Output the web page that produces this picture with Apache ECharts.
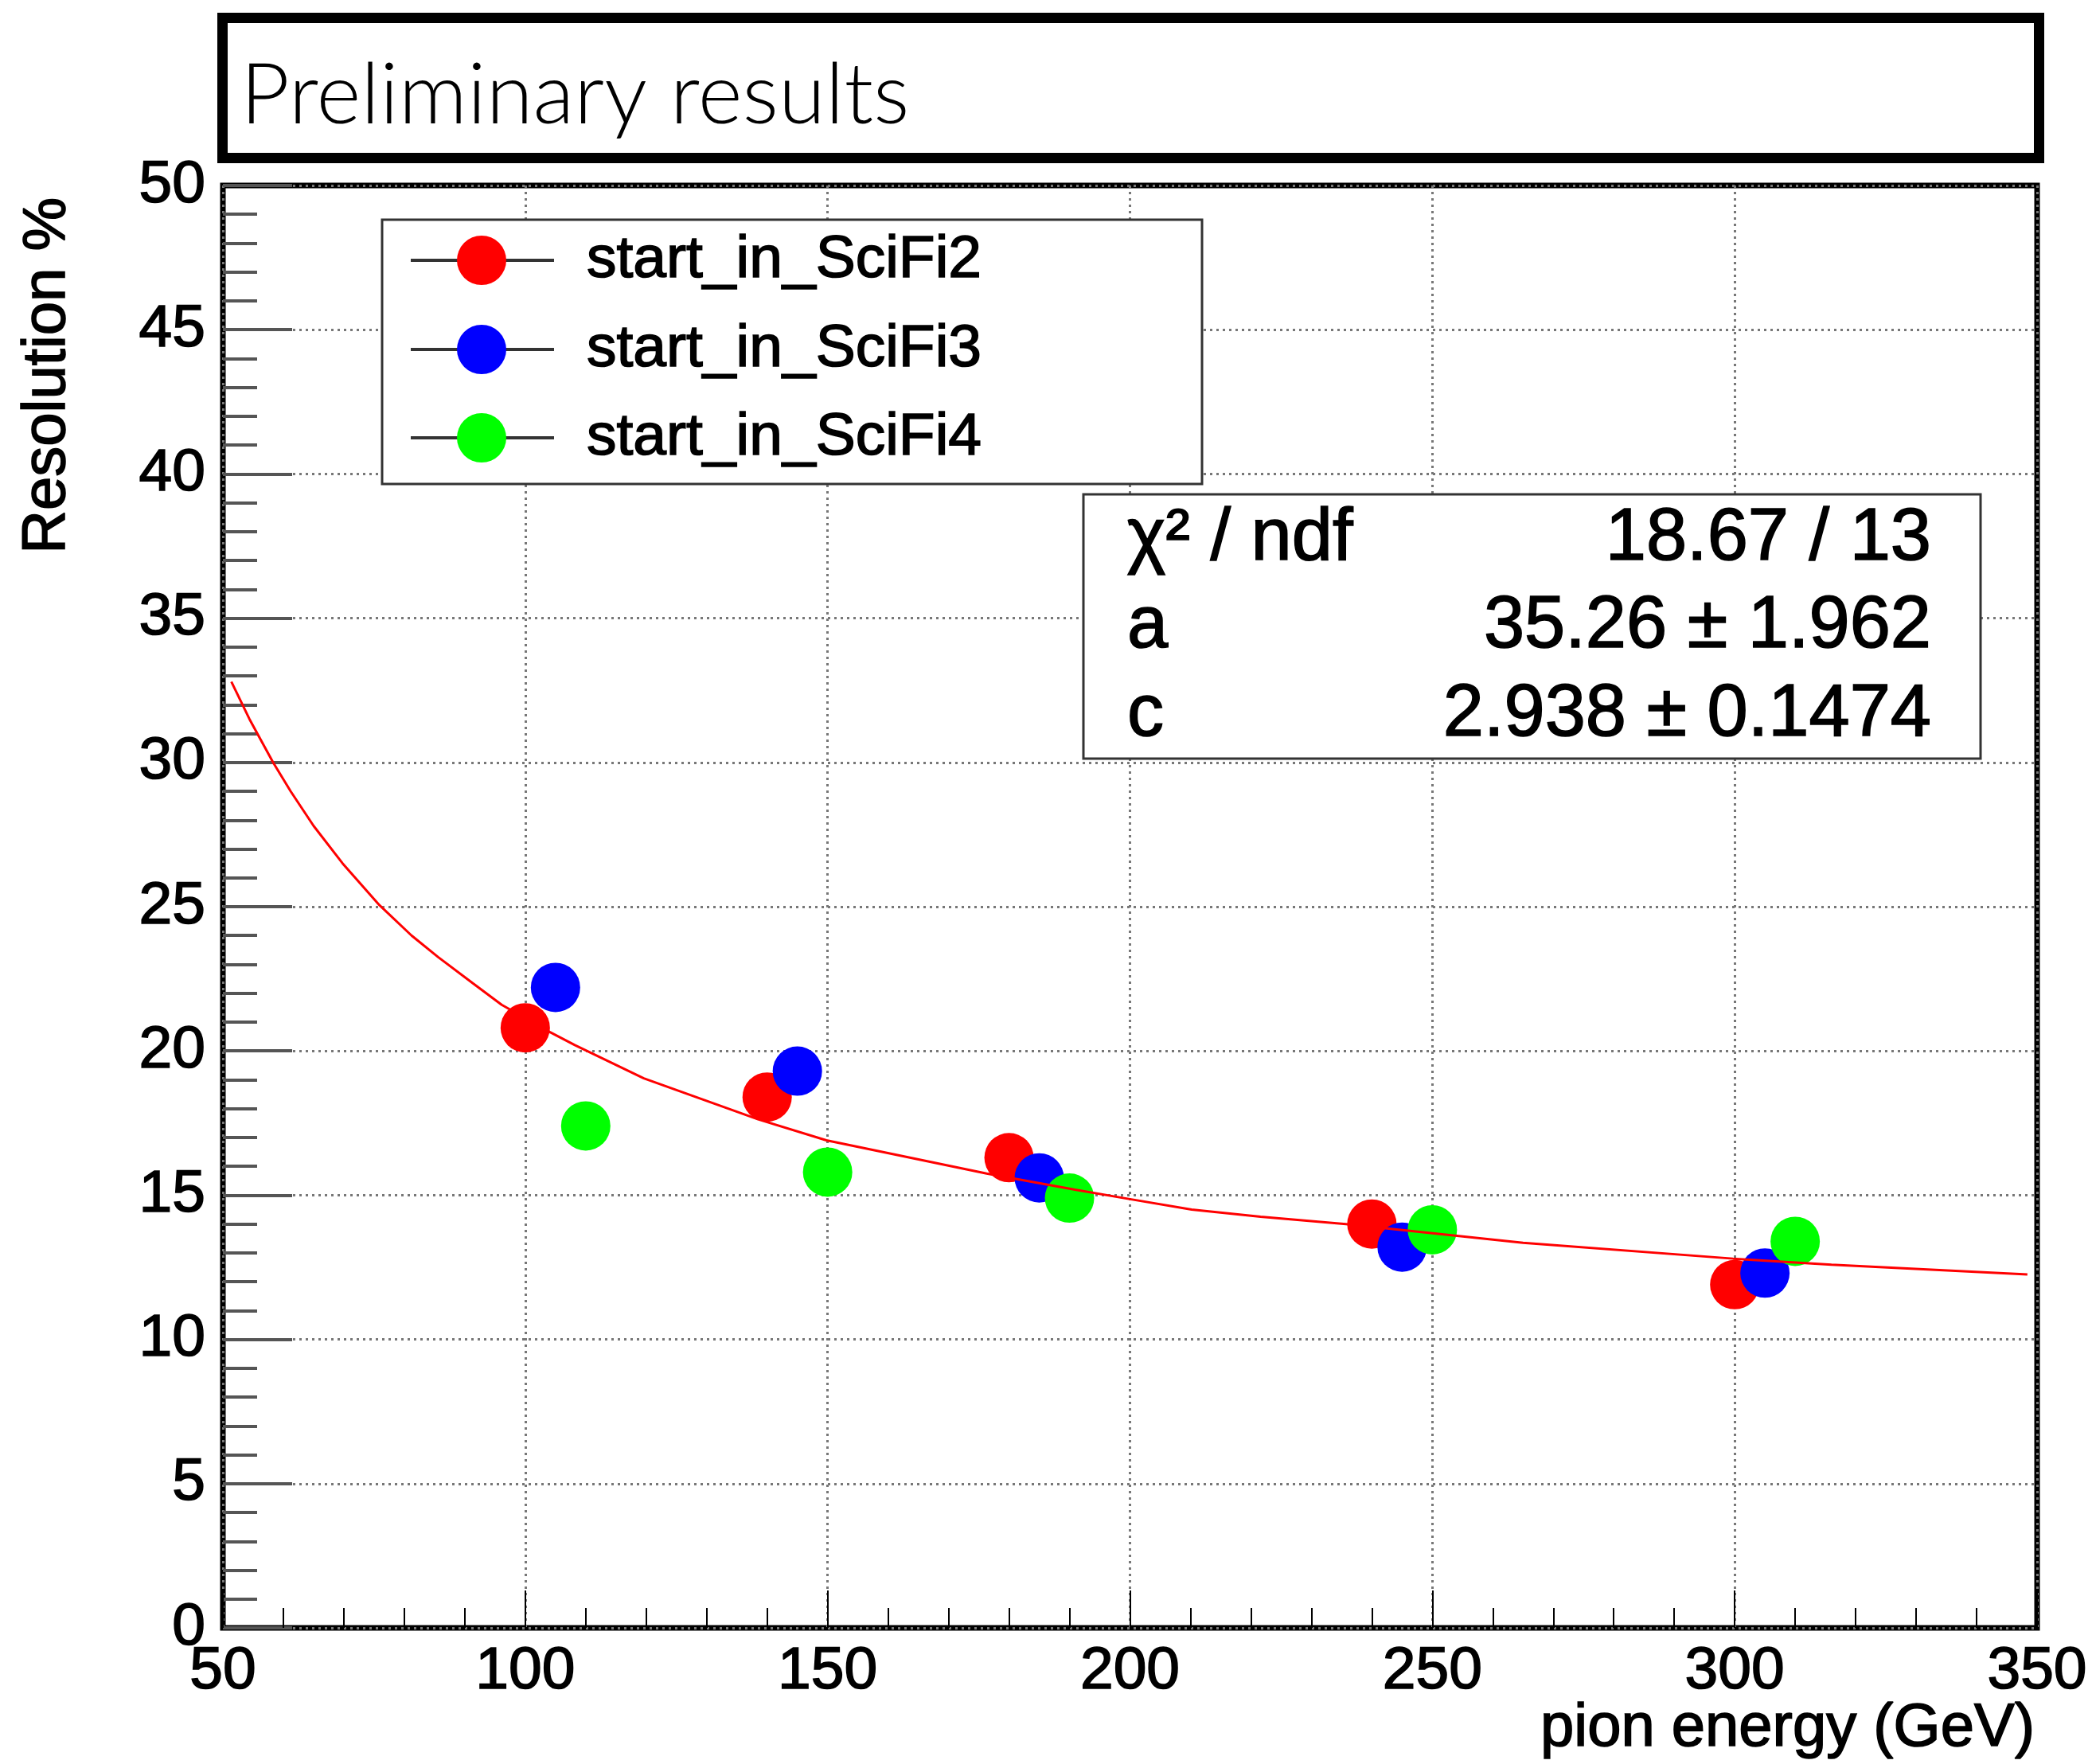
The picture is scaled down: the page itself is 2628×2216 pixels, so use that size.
<!DOCTYPE html>
<html>
<head>
<meta charset="utf-8">
<script src="https://cdn.jsdelivr.net/npm/echarts@6/dist/echarts.min.js"></script>
<style>
html,body{margin:0;padding:0;background:#fff;}
#chart{width:2628px;height:2216px;}
</style>
</head>
<body>
<div id="chart"></div>
<script>
// data
var seriesNames = ['start_in_SciFi2', 'start_in_SciFi3', 'start_in_SciFi4'];
var seriesColors = ['#ff0000', '#0000ff', '#00ff00'];

var energy2 = [100, 140, 180, 240, 300];
var res2 = [20.8, 18.4, 16.3, 14.0, 11.9];
var energy3 = [105, 145, 185, 245, 305];
var res3 = [22.2, 19.3, 15.6, 13.2, 12.3];
var energy4 = [110, 150, 190, 250, 310];
var res4 = [17.4, 15.8, 14.9, 13.8, 13.4];

// fit curve, traced point by point
var fitE = [51.4, 54.4, 58.3, 61.2, 65, 69.8, 75.9, 81.2, 85.6, 91.3, 96.1, 104.1, 108.2, 119.6, 138.5, 149.8, 176.3, 190.9, 199.8, 210.2, 221.6, 235.7, 265, 299.7, 316, 348.4];
var fitRes = [32.8, 31.5, 30.0, 29.0, 27.8, 26.5, 25.05, 24.0, 23.25, 22.35, 21.6, 20.65, 20.2, 19.05, 17.63, 16.9, 15.75, 15.19, 14.87, 14.5, 14.25, 14.0, 13.35, 12.8, 12.59, 12.25];

var statNames = ['χ² / ndf', 'a', 'c'];
var statValues = ['18.67 / 13', '35.26 ± 1.962', '2.938 ± 0.1474'];

function pairs(xs, ys){
	var out = [];
	for (var i = 0; i < xs.length; i++) out.push([xs[i], ys[i]]);
	return out;
}

var font = 'Liberation Sans';
var chart = echarts.init(document.getElementById('chart'), null, {renderer: 'canvas'});

var scatterSeries = [pairs(energy2, res2), pairs(energy3, res3), pairs(energy4, res4)].map(function(d, i){
	return {
		name: seriesNames[i],
		type: 'scatter',
		data: d,
		symbol: 'circle',
		symbolSize: 62,
		itemStyle: {color: seriesColors[i], opacity: 1},
		z: 3
	};
});

// text a touch heavier, like the ROOT picture
function txt(x, y, s, size, align, extra){
	var t = {type: 'text', x: x, y: y, z: 12,
		style: {text: s, font: size + 'px "' + font + '"', fill: '#000', verticalAlign: 'middle', align: align,
			stroke: '#000', lineWidth: 1.6}};
	if (extra) for (var k in extra) t[k] = extra[k];
	return t;
}

// legend drawn by hand (ROOT style: line through marker)
var legendItems = [];
var legendY = [327, 439, 550];
legendItems.push({type: 'rect', shape: {x: 480, y: 276, width: 1030, height: 332},
	style: {fill: '#fff', stroke: '#333', lineWidth: 3}, z: 10});
seriesNames.forEach(function(n, i){
	legendItems.push({type: 'line', shape: {x1: 516, y1: legendY[i], x2: 696, y2: legendY[i]},
		style: {stroke: '#333', lineWidth: 4}, z: 11});
	legendItems.push({type: 'circle', shape: {cx: 605, cy: legendY[i], r: 31},
		style: {fill: seriesColors[i]}, z: 12});
	legendItems.push(txt(737, legendY[i], n, 75, 'left'));
});

var statY = [678, 788, 899];
var statItems = [{type: 'rect', shape: {x: 1361, y: 621, width: 1127, height: 332},
	style: {fill: '#fff', stroke: '#333', lineWidth: 3}, z: 10}];
statNames.forEach(function(n, i){
	statItems.push(txt(1416, statY[i], n, 92, 'left'));
	statItems.push(txt(2426, statY[i], statValues[i], 92, 'right'));
});

var labelStyle = {fontFamily: font, fontSize: 75, color: '#000', textBorderColor: '#000', textBorderWidth: 1.6,
	showMinLabel: true, showMaxLabel: true};

var option = {
	animation: false,
	backgroundColor: '#fff',
	grid: {
		left: 280, right: 69, top: 233, bottom: 171,
		show: true, borderColor: '#000', borderWidth: 7, backgroundColor: 'transparent'
	},
	xAxis: {
		type: 'value',
		min: 50, max: 350, interval: 50,
		axisLine: {show: false},
		axisTick: {show: true, inside: true, length: 47, lineStyle: {color: '#000', width: 2}},
		minorTick: {show: true, splitNumber: 5, length: 25, lineStyle: {color: '#000', width: 2}},
		splitLine: {show: true, lineStyle: {color: '#777', width: 3, type: [3, 5]}},
		axisLabel: Object.assign({margin: 18}, labelStyle)
	},
	yAxis: {
		type: 'value',
		min: 0, max: 50, interval: 5,
		axisLine: {show: false},
		axisTick: {show: true, inside: true, length: 87, lineStyle: {color: '#555', width: 4}},
		minorTick: {show: true, splitNumber: 5, length: 43, lineStyle: {color: '#555', width: 4}},
		splitLine: {show: true, lineStyle: {color: '#777', width: 3, type: [3, 5]}},
		axisLabel: Object.assign({margin: 22}, labelStyle)
	},
	series: scatterSeries.concat([{
		name: 'fit',
		type: 'line',
		data: pairs(fitE, fitRes),
		showSymbol: false,
		smooth: false,
		lineStyle: {color: '#ff0000', width: 3},
		z: 4
	}]),
	graphic: [
		// title box
		{type: 'rect', shape: {x: 279.5, y: 22.5, width: 2282, height: 176},
			style: {fill: '#fff', stroke: '#000', lineWidth: 13}, z: 10},
		{type: 'text', x: 302, y: 120, z: 11,
			style: {text: 'Preliminary results', font: '300 107px "Lato"', fill: '#000', verticalAlign: 'middle', align: 'left'}},
		// axis titles
		txt(60, 248, 'Resolution %', 76, 'right', {rotation: Math.PI / 2}),
		txt(2556, 2172, 'pion energy (GeV)', 76, 'right')
	].concat(legendItems, statItems)
};

chart.setOption(option);
</script>
</body>
</html>
